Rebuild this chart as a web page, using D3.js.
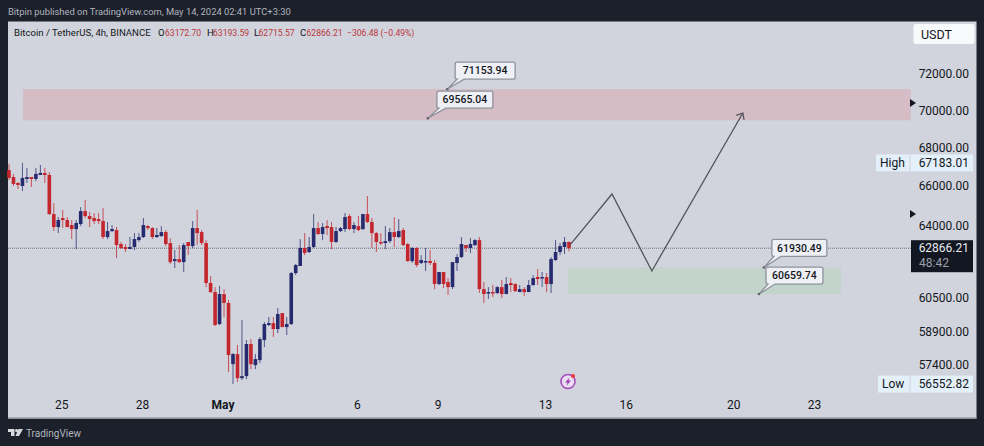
<!DOCTYPE html>
<html><head><meta charset="utf-8">
<script src="https://cdn.jsdelivr.net/npm/d3@7/dist/d3.min.js"></script>
<style>html,body{margin:0;padding:0;background:#1c202b;overflow:hidden}svg{display:block;font-family:Roboto,"Noto Sans",sans-serif}</style>
</head><body><div id="c"></div>
<script>
const opens=[66810,66450,66140,65985,66350,66450,66350,66555,66660,66555,64560,63910,64360,64260,64010,63810,64060,64710,64460,64360,64310,64210,63415,63710,63760,63070,62925,62825,62925,63265,63415,63960,63860,63415,63465,63660,63120,62240,62335,62190,63170,62970,63860,63660,63120,61185,60755,59260,60660,60240,57440,57890,56815,56905,58345,57395,57620,58525,59215,59305,59030,59770,59120,59260,61660,62000,62875,62680,62925,63860,63565,63960,63910,63170,63710,63810,64460,63810,63960,63810,64560,64160,63610,63170,63120,63215,63660,63415,63760,63070,62240,62875,62145,62190,62240,62145,61135,61710,61230,60990,62145,62435,63020,62875,63020,63265,60895,60710,60755,60710,60990,60660,61185,61135,60755,60895,60755,61090,61470,61420,61470,61135,62290,62680,62925,63172.70];
const highs=[67130,66610,66190,67183.01,66920,66450,66920,67075,66920,66710,65115,64410,64765,64410,64260,64260,64910,65270,64660,64610,64610,64865,64160,64010,63910,63170,63070,63415,63610,63610,64360,64010,63910,63860,63960,63760,63365,62775,63020,63120,63170,64210,64765,63760,63265,61520,60990,61040,60895,60380,57935,58300,59445,58525,58570,57890,58660,59350,59585,59585,60000,59770,59585,61710,62095,63315,63610,63415,64560,64160,64110,64260,64160,63910,63910,64610,64560,64160,64460,64560,65475,64360,63660,63610,63960,63860,64410,64310,63860,63120,62925,62925,62530,62875,62775,62290,61710,61710,61420,62190,62580,63415,63020,63365,63315,63415,61230,60990,61090,61040,61325,61470,61420,61185,61090,60990,61325,61565,61855,61710,61660,62435,63265,63120,63415,63193.59];
const lows=[66295,65985,65830,65730,66140,65935,66240,66555,66140,64510,63710,63610,63860,63910,63315,62825,63960,64360,63910,64060,64060,63315,63315,63660,62385,62825,62680,62825,62775,63170,63365,63760,63315,63365,63415,62970,62095,61900,62145,61710,62530,62875,63020,63020,60990,60710,59170,59215,59585,57085,56552.82,56640,56730,56770,57215,57215,57485,58205,59170,58660,58845,59120,58755,59215,61565,62000,62530,62630,62875,63515,63265,63515,62825,63120,63660,63660,63760,63610,63710,63760,64110,62875,62680,63020,62825,63120,62925,63365,62970,62190,62145,61950,62095,61760,62050,60895,61090,60945,60615,60895,61760,62385,62680,62630,62970,60710,60240,60425,60520,60660,60470,60660,60755,60755,60755,60570,60755,61040,61090,60990,60755,60710,62240,62530,62580,62715.57];
const closes=[66400,66090,66040,66400,66450,66350,66610,66660,66555,64560,63910,64260,64260,63910,63810,64110,64710,64460,64310,64210,64210,63415,63710,63810,63020,62875,62825,62925,63315,63415,64010,63860,63415,63515,63660,63070,62190,62335,62190,63020,62970,63860,63610,63120,61185,60755,59215,60660,60240,57845,57890,56815,56905,58345,57440,57665,58570,59260,59305,59030,59725,59120,59260,61660,62050,62875,62630,62925,63860,63565,63910,63860,63170,63710,63860,64410,63810,64010,63760,64560,64160,63610,63170,63120,63215,63660,63415,63710,63020,62240,62875,62050,62290,62240,62145,61135,61710,61135,60990,62190,62435,63070,62875,63070,63265,60895,60660,60755,60710,60990,60660,61135,61090,60800,60895,60755,61090,61420,61375,61470,61135,62335,62680,62970,63172.70,62866.21];

const priceTicks=[72000,70000,68000,66000,64000,60500,58900,57400];
const dateTickIdx=[12,30,48,78,96,120,138,162,180];
const dateTickLabels=["25","28","May","6","9","13","16","20","23"];
const lastPrice=62866.21, highPrice=67183.01, lowPrice=56552.82;

const redZone={i0:3.1,i1:201.3,top:71153.94,bottom:69450};
const greenZone={i0:124.8,i1:185.7,top:61930.49,bottom:60659.74};
const pathIdx=[125.2,134.6,143.5,163.8];
const pathPrice=[63020,65575,61760,69846];
const calloutIdx=[97.8,93.5,168.5,167.4];
const calloutPrice=[71153.94,69565.04,61930.49,60659.74];
const scaleMarkerPrices=[70392,64560];

const W=984,H=446;
const svg=d3.select("#c").append("svg").attr("width",W).attr("height",H);
const x=d3.scaleLinear().domain([0,1]).range([9,13.48]);
const y=d3.scaleLog().domain([72000,57400]).range([74,365]);

svg.append("rect").attr("width",W).attr("height",H).attr("fill","#1c202b");
svg.append("rect").attr("x",8).attr("y",21.5).attr("width",968.5).attr("height",397).attr("fill","#d1d4dc");
svg.append("rect").attr("x",8).attr("y",417).attr("width",968.5).attr("height",1.5).attr("fill","#a9acb5");

const zone=(z,f)=>svg.append("rect").attr("x",x(z.i0)).attr("y",y(z.top)).attr("width",x(z.i1)-x(z.i0)).attr("height",y(z.bottom)-y(z.top)).attr("fill",f);
zone(redZone,"#d5bcc5");
zone(greenZone,"#c3d4cb");

svg.append("line").attr("x1",8).attr("x2",911).attr("y1",y(lastPrice)).attr("y2",y(lastPrice)).attr("stroke","#6a6d78").attr("stroke-width",1).attr("stroke-dasharray","1 1");

const UP="#262c6e",DOWN="#c4262e";
const idx=d3.range(opens.length);
const col=i=>closes[i]>=opens[i]?UP:DOWN;
const defs=svg.append("defs");
defs.append("filter").attr("id","soft").append("feGaussianBlur").attr("stdDeviation",0.35);
const cg=svg.append("g").attr("filter","url(#soft)");
cg.selectAll("line").data(idx).join("line")
 .attr("x1",i=>x(i)).attr("x2",i=>x(i)).attr("y1",i=>y(highs[i])).attr("y2",i=>y(lows[i]))
 .attr("stroke",col).attr("stroke-opacity",0.75).attr("stroke-width",1);
cg.selectAll("rect").data(idx).join("rect")
 .attr("x",i=>x(i)-1.8).attr("width",3.6)
 .attr("y",i=>y(Math.max(opens[i],closes[i])))
 .attr("height",i=>Math.max(1.5,y(Math.min(opens[i],closes[i]))-y(Math.max(opens[i],closes[i]))))
 .attr("fill",col);

// drawn path with arrow head
const pts=pathIdx.map((d,i)=>[x(d),y(pathPrice[i])]);
svg.append("path").attr("d",d3.line()(pts)).attr("fill","none").attr("stroke","#50535e").attr("stroke-width",1.3);
const [ax,ay]=pts[3],[bx,by]=pts[2];
const ang=Math.atan2(ay-by,ax-bx),L=7;
svg.append("path").attr("d",d3.line()([[ax-L*Math.cos(ang-0.7),ay-L*Math.sin(ang-0.7)],[ax,ay],[ax-L*Math.cos(ang+0.7),ay-L*Math.sin(ang+0.7)]]))
 .attr("fill","none").attr("stroke","#50535e").attr("stroke-width",1.3);

// price callouts
const boxOff=[[8,-27,60],[9,-27,56],[8,-28,55],[7,-27,57]];
calloutPrice.forEach((p,k)=>{
 const a=x(calloutIdx[k]),b=y(p),[dx,dy,w]=boxOff[k],h=17,X=a+dx,Y=b+dy,r=2;
 const g=svg.append("g");
 g.append("path").attr("d",`M${X+r},${Y}H${X+w-r}Q${X+w},${Y} ${X+w},${Y+r}V${Y+h-r}Q${X+w},${Y+h} ${X+w-r},${Y+h}H${X+9}L${a},${b}L${X+2},${Y+h}H${X+r}Q${X},${Y+h} ${X},${Y+h-r}V${Y+r}Q${X},${Y} ${X+r},${Y}Z`)
  .attr("fill","#eef0f5").attr("stroke","#8f929c").attr("stroke-width",1.3);
 g.append("circle").attr("cx",a).attr("cy",b).attr("r",1.3).attr("fill","#60636e");
 g.append("text").attr("x",X+w/2).attr("y",Y+12.2).attr("text-anchor","middle").attr("font-size",10.5).attr("font-weight",500).attr("fill","#131722").text(d3.format(".2f")(p));
});

// header texts
svg.append("text").attr("x",8).attr("y",15).attr("font-size",9.4).attr("fill","#b2b5be").text("Bitpin published on TradingView.com, May 14, 2024 02:41 UTC+3:30");
const tx=(X,t,f,s)=>svg.append("text").attr("x",X).attr("y",35.5).attr("font-size",s).attr("fill",f).text(t);
tx(14,"Bitcoin / TetherUS, 4h, BINANCE","#131722",9.6);
const RED="#b9363c";
tx(158,"O","#131722",9.6);tx(165,"63172.70",RED,8.6);
tx(207,"H","#131722",9.6);tx(213,"63193.59",RED,8.6);
tx(254,"L","#131722",9.6);tx(258.5,"62715.57",RED,8.6);
tx(300,"C","#131722",9.6);tx(306.5,"62866.21",RED,8.6);
tx(347,"−306.48 (−0.49%)",RED,8.6);

// axes
const yAxis=d3.axisLeft(y).tickValues(priceTicks).tickFormat(d3.format(".2f")).tickSize(0).tickPadding(0);
const yg=svg.append("g").attr("transform","translate(969,0)").call(yAxis);
yg.select(".domain").remove();
yg.selectAll("text").attr("font-size",12).attr("font-family","Roboto").attr("fill","#131722");
const xAxis=d3.axisBottom(x).tickValues(dateTickIdx).tickFormat((d,i)=>dateTickLabels[i]).tickSize(0).tickPadding(0);
const xg=svg.append("g").attr("transform","translate(-1.5,400)").call(xAxis);
xg.select(".domain").remove();
xg.selectAll("text").attr("font-size",12).attr("font-family","Roboto").attr("fill","#131722").attr("font-weight",(d,i)=>dateTickLabels[i]==="May"?700:400);

// USDT button
svg.append("rect").attr("x",913.5).attr("y",24).attr("width",61).attr("height",20).attr("rx",2).attr("fill","#f8f9fb");
svg.append("text").attr("x",921).attr("y",38.5).attr("font-size",12.5).attr("font-weight",400).attr("fill","#131722").text("USDT");

// scale arrows
scaleMarkerPrices.forEach(p=>{const c=y(p);svg.append("path").attr("d",`M910,${c-4}L916,${c}L910,${c+4}Z`).attr("fill","#131722");});

// high / low tags
const tag=(p,t,X0,w)=>{const c=y(p),Top=c-8.5;
 svg.append("rect").attr("x",X0).attr("y",Top).attr("width",w).attr("height",17).attr("fill","#e3eff9");
 svg.append("rect").attr("x",909.5).attr("y",Top).attr("width",1).attr("height",17).attr("fill","#d1d4dc");
 svg.append("text").attr("x",X0+4).attr("y",c+4).attr("font-size",12).attr("fill","#131722").text(t);
 svg.append("text").attr("x",969).attr("y",c+4).attr("text-anchor","end").attr("font-size",12).attr("fill","#131722").text(d3.format(".2f")(p));};
tag(highPrice,"High",876,97);
tag(lowPrice,"Low",878,95);

// last price tag
svg.append("rect").attr("x",911).attr("y",y(lastPrice)-8).attr("width",62).attr("height",32).attr("fill","#131722");
svg.append("text").attr("x",969).attr("y",y(lastPrice)+4).attr("text-anchor","end").attr("font-size",12).attr("fill","#e8e9ee").text(d3.format(".2f")(lastPrice));
svg.append("text").attr("x",919).attr("y",y(lastPrice)+19).attr("font-size",12).attr("fill","#9da0aa").text("48:42");

// lightning icon
const ic=svg.append("g").attr("transform","translate(568,381.5)");
ic.append("circle").attr("r",7).attr("fill","#e9dff0").attr("stroke","#a64bbd").attr("stroke-width",1.6);
ic.append("path").attr("d","M1.5,-4L-3,1H-0.5L-1.5,4.2L3,-1H0.5Z").attr("fill","#a03fba");
ic.append("circle").attr("cx",5).attr("cy",-5.5).attr("r",2).attr("fill","#e8383d");

// footer
const lg=svg.append("g").attr("transform","translate(8,429)").attr("fill","#d8dae0");
lg.append("path").attr("d","M0,0H6.5V7H3V3H0Z");
lg.append("circle").attr("cx",8.6).attr("cy",1.6).attr("r",1.6);
lg.append("path").attr("d","M10.5,0H15L11,7H7.5Z");
svg.append("text").attr("x",26).attr("y",436.5).attr("font-size",10).attr("fill","#b2b5be").text("TradingView");
</script></body></html>
